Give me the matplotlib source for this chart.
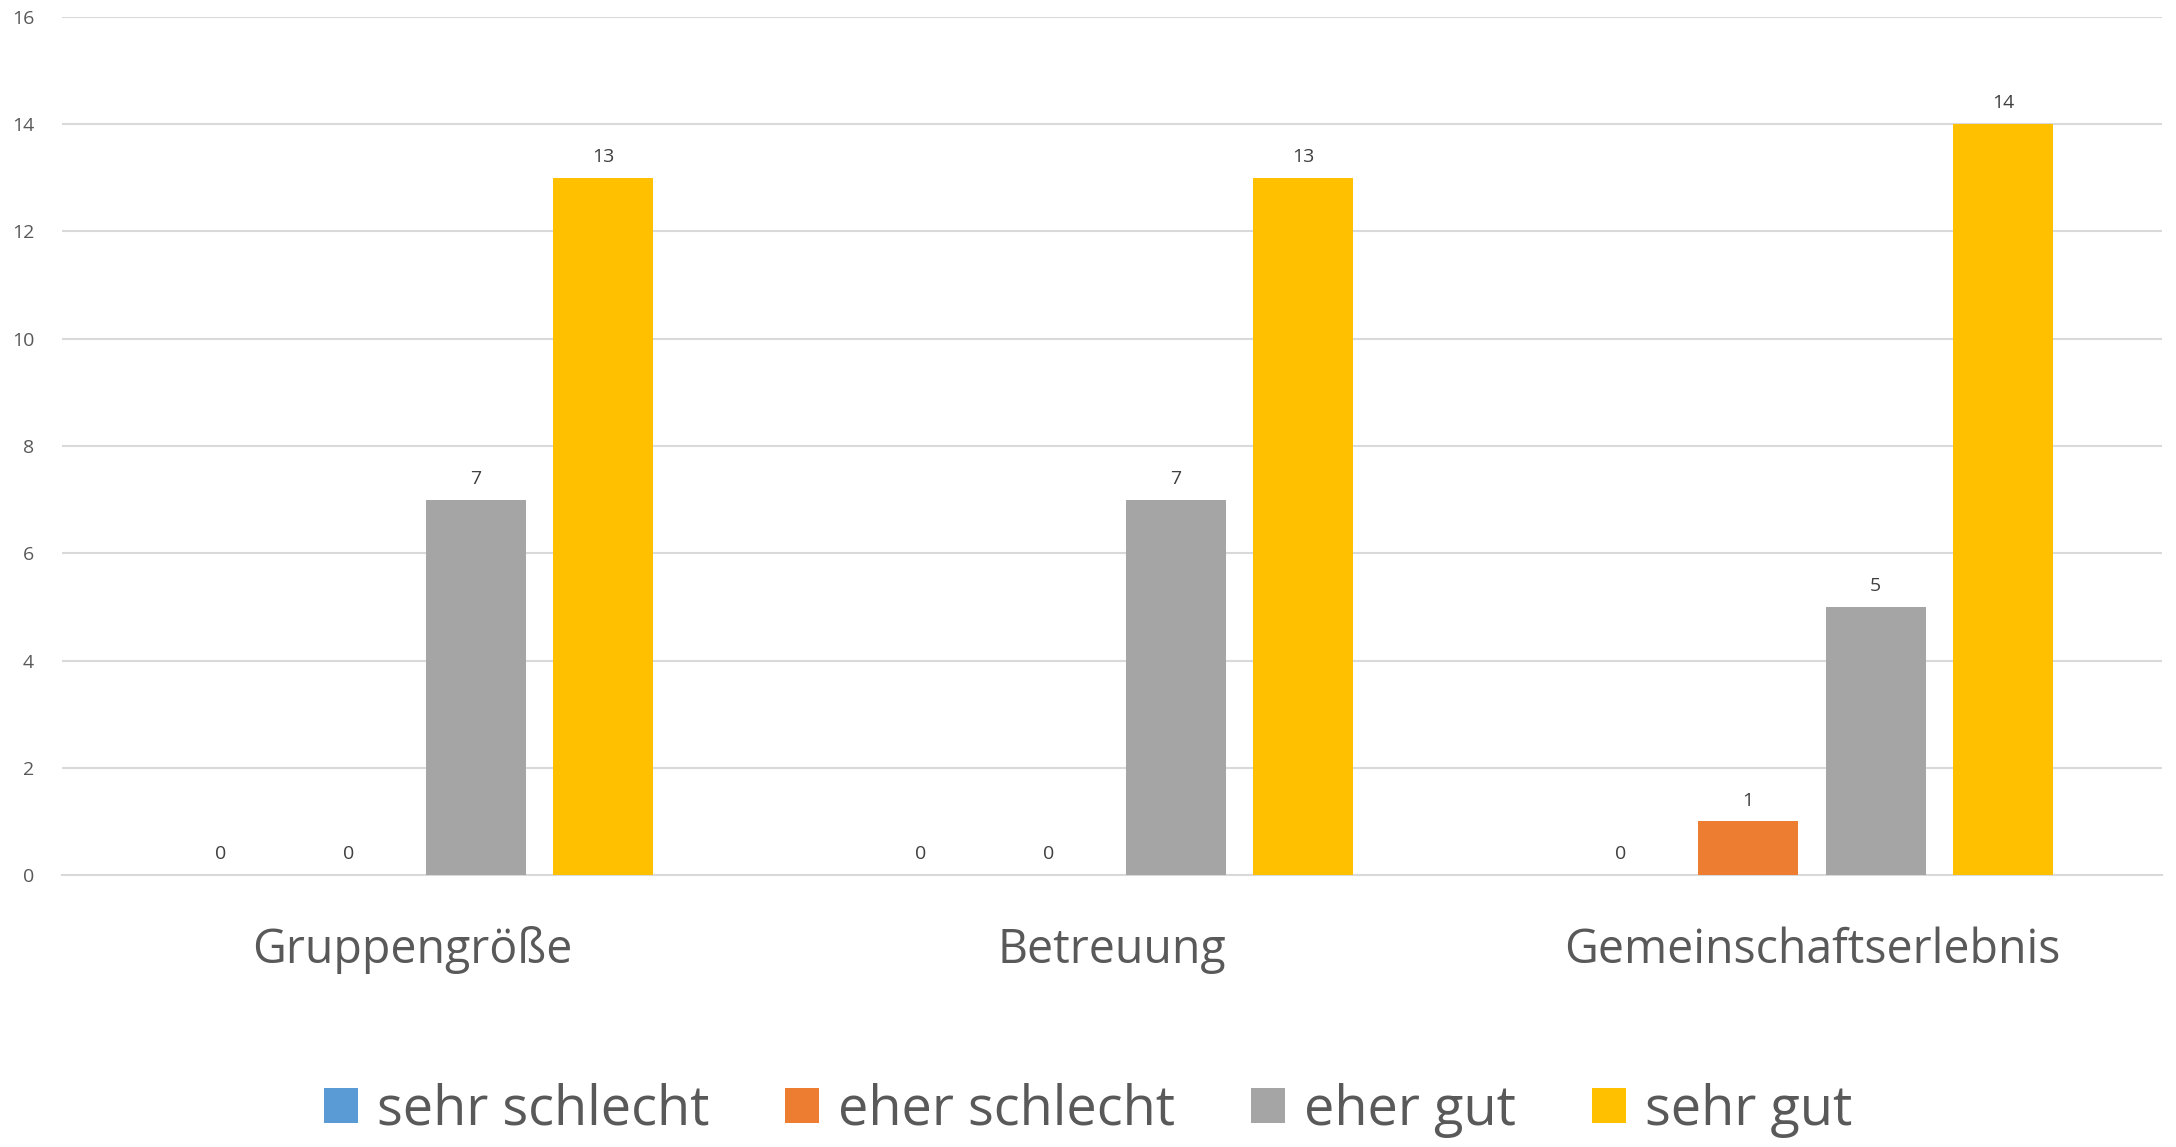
import numpy as np
import matplotlib.pyplot as plt

# Daten
kategorien = ["Gruppengröße", "Betreuung", "Gemeinschaftserlebnis"]
sehr_schlecht = [0, 0, 0]
eher_schlecht = [0, 0, 1]
eher_gut = [7, 7, 5]
sehr_gut = [13, 13, 14]
serien = ["sehr schlecht", "eher schlecht", "eher gut", "sehr gut"]
farben = ["#5B9BD5", "#ED7D31", "#A5A5A5", "#FFC000"]

plt.rcParams['font.family'] = ['Open Sans', 'DejaVu Sans']

fig = plt.figure(figsize=(21.76, 11.47), dpi=100)
ax = fig.add_axes([0.0285, 0.2371, 0.965, 0.7481])

x = np.arange(len(kategorien))
breite = 0.143
schritt = 0.182
werte = [sehr_schlecht, eher_schlecht, eher_gut, sehr_gut]

for i, (name, vals, col) in enumerate(zip(serien, werte, farben)):
    pos = x + (i - 1.5) * schritt
    bars = ax.bar(pos, vals, width=breite, color=col, label=name, zorder=3)
    for b, v in zip(bars, vals):
        ax.annotate(str(v), (b.get_x() + b.get_width() / 2, v),
                    xytext=(0, 15), textcoords="offset points",
                    ha="center", va="center", fontsize=14, color="#404040")

ax.set_xlim(-0.5, 2.5)
ax.set_ylim(0, 16)
ax.set_yticks(range(0, 17, 2))
ax.set_xticks(x)
ax.set_xticklabels(kategorien, fontsize=33.5, color="#595959")
ax.tick_params(axis="x", length=0, pad=37)
ax.tick_params(axis="y", length=0, labelsize=14, labelcolor="#595959", pad=20)
ax.grid(axis="y", color="#D9D9D9", linewidth=1.5, zorder=0)
for s in ["top", "right", "left"]:
    ax.spines[s].set_visible(False)
ax.spines["bottom"].set_color("#D9D9D9")
ax.spines["bottom"].set_linewidth(1.5)

leg = fig.legend(loc="center", bbox_to_anchor=(0.5, 0.032), ncol=4, frameon=False,
                 fontsize=39, handlelength=0.63, handleheight=0.63,
                 handletextpad=0.35, columnspacing=1.4)
for t in leg.get_texts():
    t.set_color("#595959")

fig.savefig("out.png", dpi=100)
